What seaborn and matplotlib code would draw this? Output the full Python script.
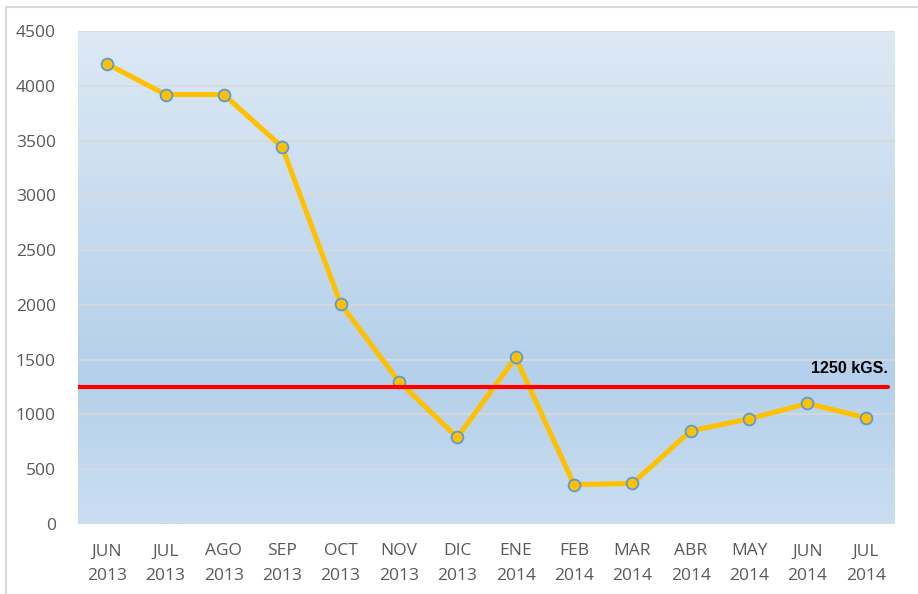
import matplotlib
matplotlib.use("Agg")
import matplotlib.pyplot as plt
import seaborn as sns
import numpy as np
import pandas as pd
from matplotlib.colors import LinearSegmentedColormap
from matplotlib.lines import Line2D

months = ["JUN\n2013", "JUL\n2013", "AGO\n2013", "SEP\n2013", "OCT\n2013", "NOV\n2013", "DIC\n2013",
          "ENE\n2014", "FEB\n2014", "MAR\n2014", "ABR\n2014", "MAY\n2014", "JUN\n2014", "JUL\n2014"]
values = [4200, 3920, 3920, 3440, 2010, 1300, 790, 1520, 360, 370, 850, 960, 1100, 970]
limit_value = 1250
limit_label = "1250 kGS."
y_ticks = [0, 500, 1000, 1500, 2000, 2500, 3000, 3500, 4000, 4500]

df = pd.DataFrame({"mes": months, "kg": values})

sns.set_theme(style="white")
plt.rcParams['font.family'] = ['Open Sans', 'DejaVu Sans']

fig = plt.figure(figsize=(9.18, 5.94), dpi=100)
ax = fig.add_axes([78/918, 1-524/594, (895-78)/918, (524-31)/594])

# gradient background
cmap = LinearSegmentedColormap.from_list("bg", [(0.0, "#cadef1"), (0.3, "#b4d0ea"), (1.0, "#dde9f5")])
grad = np.linspace(0, 1, 256).reshape(-1, 1)
ax.imshow(grad, extent=[-0.5, len(months) - 0.5, 0, 4500], origin="lower", aspect="auto",
          cmap=cmap, zorder=0)

for t in y_ticks:
    ax.axhline(t, color="#d9d9d9", lw=1.2, zorder=1)

sns.lineplot(data=df, x="mes", y="kg", ax=ax, color="#ffc000", lw=3.6, sort=False,
             marker="o", markersize=8.5, markerfacecolor="#ffc000", markeredgecolor="#5b9bd5",
             markeredgewidth=1.3, zorder=3)

ax.plot([-0.5, len(months) - 0.62], [limit_value, limit_value], color="#ff0000", lw=3, zorder=4)
ax.text(len(months) - 0.62, limit_value + 105, limit_label, ha="right", va="bottom",
        fontsize=11.5, fontweight="bold", color="black", family=["Liberation Sans", "DejaVu Sans"], zorder=5)

ax.set_xlim(-0.5, len(months) - 0.5)
ax.set_ylim(0, 4500)
ax.set_yticks(y_ticks)
ax.set_xticks(range(len(months)))
ax.set_xticklabels(months)
ax.set_xlabel("")
ax.set_ylabel("")
ax.tick_params(axis="both", labelsize=12.5, colors="#595959", length=0)
ax.tick_params(axis="y", pad=16)
ax.tick_params(axis="x", pad=14)
for lab in ax.get_xticklabels():
    lab.set_linespacing(1.7)
for s in ax.spines.values():
    s.set_visible(False)

# outer chart border (left and top visible)
fig.add_artist(Line2D([6/918, 6/918], [0, 1-7/594], color="#d9d9d9", lw=1.5, transform=fig.transFigure))
fig.add_artist(Line2D([6/918, 1], [1-7/594, 1-7/594], color="#d9d9d9", lw=1.5, transform=fig.transFigure))

fig.savefig("out.png", dpi=100)
